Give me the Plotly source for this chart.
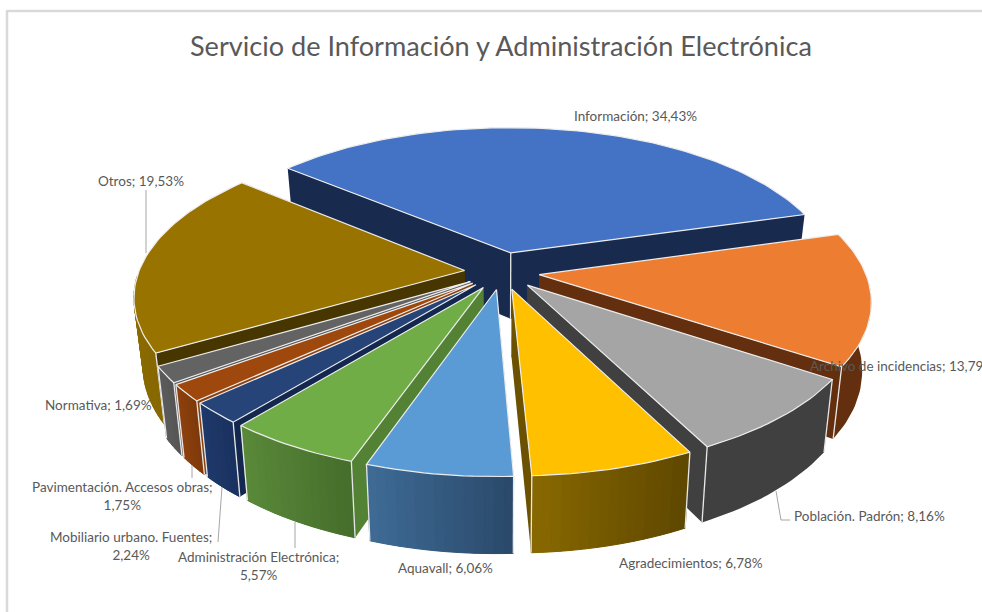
import numpy as np
import plotly.graph_objects as go

categories = ["Información", "Archivo de incidencias", "Población. Padrón", "Agradecimientos",
              "Aquavall", "Administración Electrónica", "Mobiliario urbano. Fuentes",
              "Pavimentación. Accesos obras", "Normativa", "Otros"]
values = [34.43, 13.79, 8.16, 6.78, 6.06, 5.57, 2.24, 1.75, 1.69, 19.53]
top_colors = ["#4472C4", "#ED7D31", "#A5A5A5", "#FFC000", "#5B9BD5", "#70AD47",
              "#264478", "#9E480E", "#636363", "#997300"]
cut_colors = ["#182B4F", "#632F0E", "#404040", "#6B5100", "#2E4F70", "#548235",
              "#14284F", "#8A3F0C", "#565656", "#473600"]
rim_left = ["#182B4F", "#632F0E", "#404040", "#8A6A00", "#3F6C97", "#5A8A3A",
            "#1F3A6B", "#8F420D", "#5C5C5C", "#8A6A00"]
rim_right = ["#182B4F", "#632F0E", "#404040", "#5F4800", "#2B4A6B", "#466E2C",
             "#1A3260", "#7F390B", "#565656", "#7A5E00"]

# projection of the tilted disc
CX, CY, R, K, P = 502.0, 272.0, 326.0, 0.463, 0.16
START = -50.0
EXPLODE = 0.115
SHRINK = 0.975


def project(u, v):
    s = 1.0 / (1.0 - P * v)
    return CX + R * u * s, CY + R * K * v * s


def bottom(x, y, v):
    return CX + (x - CX) * SHRINK, y + 67.0 + 9.0 * v


def mix(a, b, t):
    ca = [int(a[i:i + 2], 16) for i in (1, 3, 5)]
    cb = [int(b[i:i + 2], 16) for i in (1, 3, 5)]
    return "#%02X%02X%02X" % tuple(round(p + (q - p) * t) for p, q in zip(ca, cb))


fig = go.Figure()


def poly(xs, ys, fill, line=None, width=0.0):
    fig.add_trace(go.Scatter(x=list(xs), y=list(ys), mode="lines", fill="toself", fillcolor=fill,
                             line=dict(color=line or fill, width=width), hoverinfo="skip",
                             showlegend=False))


def seam(x0, y0, x1, y1, color="#E8E8E8", width=1.3):
    fig.add_trace(go.Scatter(x=[x0, x1], y=[y0, y1], mode="lines", hoverinfo="skip",
                             line=dict(color=color, width=width), showlegend=False))


edges = START + np.cumsum([0] + values) * 3.6
slices = [(i, edges[i], edges[i + 1], (edges[i] + edges[i + 1]) / 2) for i in range(len(values))]
# back to front: furthest from the direction facing the viewer first
order = sorted(slices, key=lambda t: abs((t[3] % 360) - 180), reverse=True)

for i, a0, a1, mid in order:
    ex = EXPLODE * (1.15 if i == 0 else 1.0)
    ou, ov = ex * np.sin(np.radians(mid)), -ex * np.cos(np.radians(mid))
    ang = np.radians(np.linspace(a0, a1, max(4, int((a1 - a0) / 1.5) + 2)))
    us = ou + np.sin(ang)
    vs = ov - np.cos(ang)
    tx, ty = project(us, vs)
    ax, ay = project(np.array([ou]), np.array([ov]))
    ax, ay = ax[0], ay[0]
    bx, by = bottom(tx, ty, vs)
    abx, aby = bottom(ax, ay, ov)

    # the two cut faces
    for k in (0, -1):
        poly([ax, tx[k], bx[k], abx, ax], [ay, ty[k], by[k], aby, ay], cut_colors[i])
    # rim: a base shape, then thin strips so the shading runs across it
    n = len(tx)
    front = [j for j in range(n) if vs[j] >= 0.0]
    if len(front) >= 2:
        f0, f1 = front[0], front[-1]
        poly([*tx[f0:f1 + 1], *bx[f0:f1 + 1][::-1], tx[f0]], [*ty[f0:f1 + 1], *by[f0:f1 + 1][::-1], ty[f0]],
             mix(rim_left[i], rim_right[i], 0.5))
        if rim_left[i] != rim_right[i]:
            for j in range(f0, f1):
                t = (tx[j] - tx.min()) / (tx.max() - tx.min())
                c = mix(rim_left[i], rim_right[i], t)
                poly([tx[j], tx[j + 1], bx[j + 1], bx[j], tx[j]],
                     [ty[j], ty[j + 1], by[j + 1], by[j], ty[j]], c, width=1.0)
    # light seams at the corners
    for k in (0, -1):
        if vs[k] > 0:
            seam(tx[k], ty[k], bx[k], by[k])
    if i == 0:
        seam(ax, ay, abx, aby)
    # top face
    poly([ax, *tx, ax], [ay, *ty, ay], top_colors[i], line="#EDEDED", width=1.2)

# frame
seam(7, 11, 982, 11, "#D9D9D9", 2.5)
seam(7, 10, 7, 612, "#D9D9D9", 2.5)

# leader lines
for path in ([(146, 190), (146, 253)],
             [(776, 491), (781, 520), (790, 520)],
             [(295, 522), (295, 548)],
             [(222, 487), (218, 542)],
             [(192, 465), (192, 478)]):
    fig.add_trace(go.Scatter(x=[p[0] for p in path], y=[p[1] for p in path], mode="lines",
                             line=dict(color="#A6A6A6", width=1), hoverinfo="skip", showlegend=False))

TEXT = "#595959"
FONT = "Lato"
label_lines = [
    (categories[0] + "; 34,43%", 635, 116, "center"),
    (categories[1] + "; 13,79%", 808, 366, "left"),
    (categories[2] + "; 8,16%", 869, 516, "center"),
    (categories[3] + "; 6,78%", 691, 563, "center"),
    (categories[4] + "; 6,06%", 445, 568, "center"),
    (categories[5] + ";<br>5,57%", 258, 566, "center"),
    (categories[6] + ";<br>2,24%", 131, 546, "center"),
    (categories[7] + ";<br>1,75%", 122, 496, "center"),
    (categories[8] + "; 1,69%", 98, 405, "center"),
    (categories[9] + "; 19,53%", 141, 181, "center"),
]
annotations = [dict(x=x, y=y, text=t, xref="x", yref="y", xanchor=a, yanchor="middle", showarrow=False,
                    align="center", font=dict(family=FONT, size=13.5, color=TEXT))
               for t, x, y, a in label_lines]
annotations.append(dict(x=501, y=45.5, text="Servicio de Información y Administración Electrónica",
                        xref="x", yref="y", xanchor="center", yanchor="middle", showarrow=False,
                        font=dict(family=FONT, size=27.1, color=TEXT)))

fig.update_layout(width=982, height=612, margin=dict(l=0, r=0, t=0, b=0),
                  paper_bgcolor="white", plot_bgcolor="white", showlegend=False,
                  xaxis=dict(range=[0, 982], visible=False, fixedrange=True),
                  yaxis=dict(range=[612, 0], visible=False, fixedrange=True),
                  annotations=annotations)
fig.write_html("out.html", config=dict(displayModeBar=False),
               post_script="document.body.style.margin='0';document.body.style.overflow='hidden';")
